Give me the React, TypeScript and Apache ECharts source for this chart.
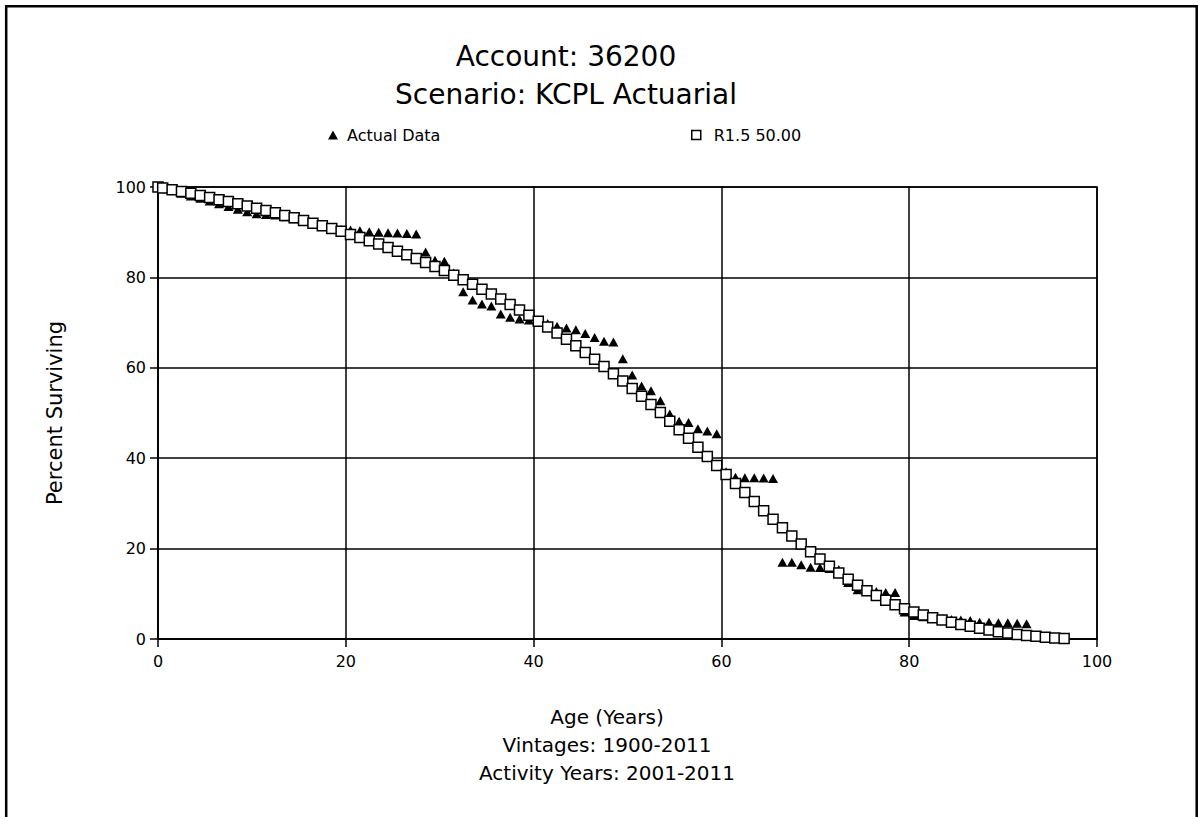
import React, { useEffect, useRef } from "react";
import * as echarts from "echarts";

// Observed survivor percentages by age (years)
const actualData: [number, number][] = [
  [0.5, 99.7], [1.5, 99.2], [2.5, 98.6], [3.5, 98.0], [4.5, 97.5], [5.5, 96.9], [6.5, 96.3],
  [7.5, 95.7], [8.5, 95.1], [9.5, 94.5], [10.5, 94.1], [11.5, 93.9], [12.5, 93.8], [13.5, 93.4],
  [14.5, 93.0], [15.5, 92.5], [16.5, 92.0], [17.5, 91.5], [18.5, 91.0], [19.5, 90.6], [20.5, 90.5],
  [21.5, 90.3], [22.5, 90.1], [23.5, 90.0], [24.5, 89.9], [25.5, 89.8], [26.5, 89.7], [27.5, 89.6],
  [28.5, 85.6], [29.5, 83.8], [30.5, 83.6], [31.5, 81.0], [32.5, 76.8], [33.5, 75.0], [34.5, 74.1],
  [35.5, 73.7], [36.5, 71.9], [37.5, 71.2], [38.5, 70.8], [39.5, 70.6], [40.5, 70.4], [41.5, 69.8],
  [42.5, 69.2], [43.5, 68.8], [44.5, 68.4], [45.5, 67.6], [46.5, 66.7], [47.5, 65.9], [48.5, 65.7],
  [49.5, 62.0], [50.5, 58.4], [51.5, 56.0], [52.5, 54.9], [53.5, 52.7], [54.5, 49.8], [55.5, 48.2],
  [56.5, 47.9], [57.5, 46.5], [58.5, 46.0], [59.5, 45.4], [60.5, 37.0], [61.5, 35.8], [62.5, 35.7],
  [63.5, 35.7], [64.5, 35.6], [65.5, 35.5], [66.5, 17.0], [67.5, 17.0], [68.5, 16.4], [69.5, 15.9],
  [70.5, 15.8], [71.5, 15.6], [72.5, 15.4], [73.5, 12.5], [74.5, 10.9], [75.5, 10.8], [76.5, 10.5],
  [77.5, 10.3], [78.5, 10.3], [79.5, 6.0], [80.5, 5.2], [81.5, 4.9], [82.5, 4.7], [83.5, 4.5],
  [84.5, 4.3], [85.5, 4.2], [86.5, 4.1], [87.5, 3.7], [88.5, 3.7], [89.5, 3.6], [90.5, 3.6],
  [91.5, 3.5], [92.5, 3.4],
];

// Iowa R1.5 curve, 50.00 year average life
const fittedCurve: [number, number][] = [
  [0, 100], [0.5, 99.8], [1.5, 99.4], [2.5, 99.0], [3.5, 98.6], [4.5, 98.1], [5.5, 97.7],
  [6.5, 97.2], [7.5, 96.8], [8.5, 96.3], [9.5, 95.8], [10.5, 95.3], [11.5, 94.8], [12.5, 94.3],
  [13.5, 93.7], [14.5, 93.2], [15.5, 92.6], [16.5, 92.0], [17.5, 91.4], [18.5, 90.8], [19.5, 90.2],
  [20.5, 89.5], [21.5, 88.8], [22.5, 88.1], [23.5, 87.4], [24.5, 86.6], [25.5, 85.8], [26.5, 85.0],
  [27.5, 84.2], [28.5, 83.3], [29.5, 82.4], [30.5, 81.5], [31.5, 80.5], [32.5, 79.5], [33.5, 78.5],
  [34.5, 77.4], [35.5, 76.3], [36.5, 75.2], [37.5, 74.0], [38.5, 72.8], [39.5, 71.6], [40.5, 70.3],
  [41.5, 69.0], [42.5, 67.7], [43.5, 66.3], [44.5, 64.9], [45.5, 63.4], [46.5, 61.9], [47.5, 60.3],
  [48.5, 58.7], [49.5, 57.1], [50.5, 55.4], [51.5, 53.7], [52.5, 51.9], [53.5, 50.1], [54.5, 48.2],
  [55.5, 46.3], [56.5, 44.4], [57.5, 42.4], [58.5, 40.4], [59.5, 38.4], [60.5, 36.4], [61.5, 34.4],
  [62.5, 32.4], [63.5, 30.4], [64.5, 28.4], [65.5, 26.5], [66.5, 24.6], [67.5, 22.8], [68.5, 21.0],
  [69.5, 19.3], [70.5, 17.7], [71.5, 16.1], [72.5, 14.6], [73.5, 13.2], [74.5, 11.9], [75.5, 10.7],
  [76.5, 9.6], [77.5, 8.6], [78.5, 7.6], [79.5, 6.7], [80.5, 6.0], [81.5, 5.3], [82.5, 4.7],
  [83.5, 4.2], [84.5, 3.7], [85.5, 3.2], [86.5, 2.8], [87.5, 2.4], [88.5, 2.0], [89.5, 1.6],
  [90.5, 1.3], [91.5, 1.0], [92.5, 0.8], [93.5, 0.6], [94.5, 0.4], [95.5, 0.2], [96.5, 0.1],
];

const titleLines = ["Account: 36200", "Scenario: KCPL Actuarial"];
const xNameLines = ["Age (Years)", "Vintages: 1900-2011", "Activity Years: 2001-2011"];
const seriesNames = ["Actual Data", "R1.5 50.00"];

const FONT = "DejaVu Sans";

export default function App() {
  const ref = useRef<HTMLDivElement>(null);

  useEffect(() => {
    if (!ref.current) return;
    const chart = echarts.init(ref.current, null, { renderer: "svg" });

    const text = (s: string, x: number, y: number, size: number) => ({
      type: "text",
      x,
      y,
      style: {
        text: s,
        fontFamily: FONT,
        fontSize: size,
        fill: "#000",
        textAlign: "center",
        textVerticalAlign: "middle",
      },
    });

    chart.setOption({
      animation: false,
      backgroundColor: "#fff",
      textStyle: { fontFamily: FONT, color: "#000" },
      grid: {
        left: 158,
        top: 187,
        width: 939,
        height: 452,
        show: true,
        borderColor: "#000",
        borderWidth: 1.5,
        backgroundColor: "#fff",
      },
      legend: [
        {
          data: [{ name: seriesNames[0], icon: "triangle" }],
          left: 323,
          top: 122,
          itemWidth: 10,
          itemHeight: 9,
          textStyle: { fontFamily: FONT, fontSize: 16, color: "#000", padding: [0, 0, 0, 4] },
        },
        {
          data: [
            {
              name: seriesNames[1],
              icon: "rect",
              itemStyle: { color: "#fff", borderColor: "#000", borderWidth: 1.5, opacity: 1 },
            },
          ],
          left: 686,
          top: 122,
          itemWidth: 9,
          itemHeight: 9,
          textStyle: { fontFamily: FONT, fontSize: 16, color: "#000", padding: [0, 0, 0, 8] },
        },
      ],
      xAxis: {
        type: "value",
        min: 0,
        max: 100,
        interval: 20,
        axisLine: { show: true, onZero: false, lineStyle: { color: "#000", width: 1.5 } },
        axisTick: { show: true, length: 8, lineStyle: { color: "#000", width: 1.5 } },
        axisLabel: { color: "#000", fontSize: 16, fontFamily: FONT, margin: 14 },
        splitLine: { show: true, lineStyle: { color: "#000", width: 1.5 } },
      },
      yAxis: {
        type: "value",
        min: 0,
        max: 100,
        interval: 20,
        name: "Percent Surviving",
        nameLocation: "middle",
        nameGap: 93,
        nameTextStyle: { color: "#000", fontSize: 21, fontFamily: FONT },
        axisLine: { show: true, lineStyle: { color: "#000", width: 1.5 } },
        axisTick: { show: true, length: 8, lineStyle: { color: "#000", width: 1.5 } },
        axisLabel: { color: "#000", fontSize: 16, fontFamily: FONT, margin: 12 },
        splitLine: { show: true, lineStyle: { color: "#000", width: 1.5 } },
      },
      series: [
        {
          name: seriesNames[0],
          type: "scatter",
          symbol: "triangle",
          symbolSize: [10, 9],
          itemStyle: { color: "#000", opacity: 1 },
          data: actualData,
          z: 2,
        },
        {
          name: seriesNames[1],
          type: "scatter",
          symbol: "rect",
          symbolSize: 10,
          itemStyle: { color: "#fff", borderColor: "#000", borderWidth: 1.5, opacity: 1 },
          data: fittedCurve,
          z: 3,
        },
      ],
      graphic: [
        {
          type: "rect",
          shape: { x: 6.2, y: 6.2, width: 1190.5, height: 900 },
          style: { fill: "none", stroke: "#000", lineWidth: 2.5 },
          silent: true,
        },
        text(titleLines[0], 566, 56, 28),
        text(titleLines[1], 566, 94, 28),
        text(xNameLines[0], 607, 717, 20),
        text(xNameLines[1], 607, 745, 20),
        text(xNameLines[2], 607, 773, 20),
      ],
    });

    return () => chart.dispose();
  }, []);

  return (
    <div
      ref={ref}
      style={{ position: "fixed", left: 0, top: 0, width: 1199, height: 817, background: "#fff" }}
    />
  );
}
